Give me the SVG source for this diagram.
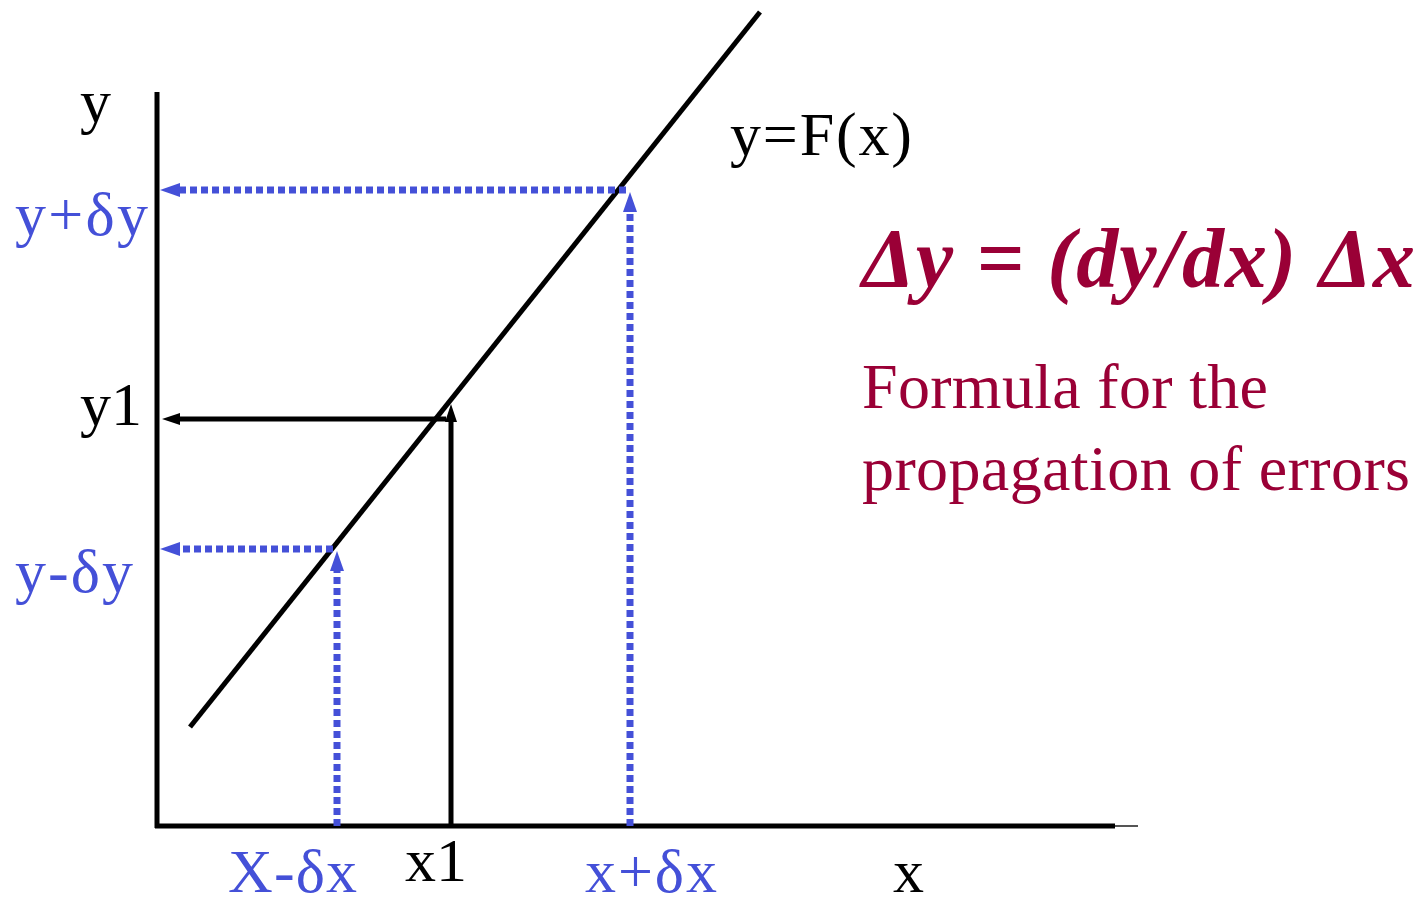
<svg xmlns="http://www.w3.org/2000/svg" width="1428" height="905" viewBox="0 0 1428 905">
<style>
.ax{stroke:#000;stroke-width:5;fill:none}
.bl{stroke:#4450d8;stroke-width:7;stroke-dasharray:7 4;fill:none}
.bk{stroke:#000;stroke-width:5;fill:none}
text{font-family:"Liberation Serif","Times New Roman",serif}
.lb{font-size:62px;fill:#000}
.lbb{font-size:62px;fill:#4450d8}
.mr{fill:#9a0036}
</style>
<defs>
<marker id="ab" markerWidth="20" markerHeight="16" refX="3" refY="8" orient="auto" markerUnits="userSpaceOnUse"><path d="M0,1 L20,8 L0,15 z" fill="#4450d8"/></marker>
<marker id="ak" markerWidth="18" markerHeight="14" refX="3" refY="7" orient="auto" markerUnits="userSpaceOnUse"><path d="M0,1 L18,7 L0,13 z" fill="#000"/></marker>
</defs>
<rect width="1428" height="905" fill="#fff"/>
<g id="axes">
<line class="ax" x1="157" y1="92" x2="157" y2="828"/>
<line class="ax" x1="155" y1="826" x2="1115" y2="826"/>
<line x1="1115" y1="826" x2="1138" y2="826" stroke="#555" stroke-width="2"/>
</g>
<g id="curve"><line x1="190" y1="727" x2="760" y2="12" stroke="#000" stroke-width="5"/></g>
<g id="connectors">
<line class="bl" x1="626" y1="190" x2="177" y2="190" marker-end="url(#ab)"/>
<line class="bl" x1="630" y1="826" x2="630" y2="209" marker-end="url(#ab)"/>
<line class="bl" x1="333" y1="549" x2="177" y2="549" marker-end="url(#ab)"/>
<line class="bl" x1="337" y1="826" x2="337" y2="568" marker-end="url(#ab)"/>
<line class="bk" x1="446" y1="419" x2="177" y2="419" marker-end="url(#ak)"/>
<line class="bk" x1="451" y1="826" x2="451" y2="419" marker-end="url(#ak)"/>
</g>
<g id="labels">
<text class="lb" x="80" y="122">y</text>
<text class="lbb" x="15" y="235" textLength="133">y+δy</text>
<text class="lb" x="80" y="425">y1</text>
<text class="lbb" x="15" y="592" textLength="118">y-δy</text>
<text class="lbb" x="228" y="892" textLength="129">X-δx</text>
<text class="lb" x="405" y="881">x1</text>
<text class="lbb" x="585" y="892" textLength="132">x+δx</text>
<text class="lb" x="893" y="892">x</text>
<text class="lb" x="730" y="155" textLength="182">y=F(x)</text>
</g>
<g id="formula">
<text class="mr" x="862" y="287" font-size="84" font-weight="bold" font-style="italic" textLength="553">Δy = (dy/dx) Δx</text>
<text class="mr" x="862" y="408" font-size="64" textLength="406">Formula for the</text>
<text class="mr" x="862" y="490" font-size="64" textLength="548">propagation of errors</text>
</g>
</svg>
